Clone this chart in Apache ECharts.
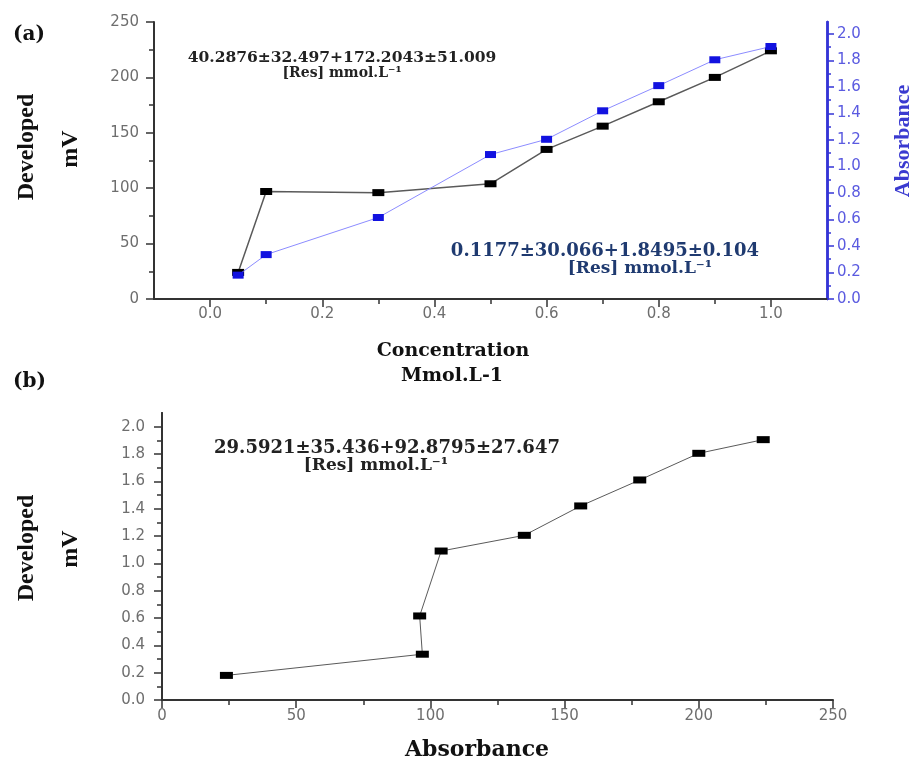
<!DOCTYPE html>
<html>
<head>
<meta charset="utf-8">
<script src="https://cdn.jsdelivr.net/npm/echarts@6/dist/echarts.min.js"></script>
<style>html,body{margin:0;padding:0;background:#fff}#c{width:917px;height:764px}</style>
</head>
<body>
<div id="c"></div>
<script>
// ---- data ----
var concentration = [0.05, 0.1, 0.3, 0.5, 0.6, 0.7, 0.8, 0.9, 1.0];
var developedMV = [24, 97, 96, 104, 135, 156, 178, 200, 224];
var absorbance = [0.18, 0.335, 0.615, 1.09, 1.205, 1.42, 1.61, 1.805, 1.905];
var concMajorTicks = [0, 0.2, 0.4, 0.6, 0.8, 1.0];
var concMinorTicks = [0.1, 0.3, 0.5, 0.7, 0.9];
var absMajorTicks = [0, 0.2, 0.4, 0.6, 0.8, 1.0, 1.2, 1.4, 1.6, 1.8, 2.0];
var absMinorTicks = [0.1, 0.3, 0.5, 0.7, 0.9, 1.1, 1.3, 1.5, 1.7, 1.9];

var chart = echarts.init(document.getElementById('c'), null, {renderer: 'canvas'});

var tickFont = {fontFamily: 'DejaVu Sans', fontSize: 15, color: '#6e6e6e'};
var dark = '#333';
var blue = '#3434d6';
function fmt1(v) { return v.toFixed(1); }

function pairs(xs, ys) { return xs.map(function (x, i) { return [x, ys[i]]; }); }

var topGrid = {left: 154, right: 90, top: 22, bottom: 465};

var option = {
  animation: false,
  backgroundColor: '#fff',
  grid: [
    topGrid,
    {left: 162, right: 84, top: 413, bottom: 64},
    Object.assign({}, topGrid)
  ],
  xAxis: [
    { // top main
      type: 'value', gridIndex: 0, min: -0.1, max: 1.1, position: 'bottom',
      axisLine: {show: true, onZero: false, lineStyle: {color: dark, width: 2}},
      axisTick: {show: true, customValues: concMajorTicks, length: 8, lineStyle: {color: dark, width: 1.5}},
      axisLabel: Object.assign({customValues: concMajorTicks, formatter: fmt1, margin: 8}, tickFont),
      splitLine: {show: false}
    },
    { // bottom
      type: 'value', gridIndex: 1, min: 0, max: 250, interval: 50, position: 'bottom',
      axisLine: {show: true, onZero: false, lineStyle: {color: dark, width: 2}},
      axisTick: {show: true, length: 8, lineStyle: {color: dark, width: 1.5}},
      minorTick: {show: true, splitNumber: 2, length: 5, lineStyle: {color: dark, width: 1.5}},
      axisLabel: Object.assign({margin: 9}, tickFont),
      splitLine: {show: false}
    },
    { // top minor ticks (overlay grid)
      type: 'value', gridIndex: 2, min: -0.1, max: 1.1, position: 'bottom',
      axisLine: {show: true, onZero: false, lineStyle: {color: dark, width: 2}},
      axisTick: {show: true, customValues: concMinorTicks, length: 5, lineStyle: {color: dark, width: 1.5}},
      axisLabel: {show: false},
      splitLine: {show: false}
    }
  ],
  yAxis: [
    { // top left mV
      type: 'value', gridIndex: 0, min: 0, max: 250, interval: 50, position: 'left',
      axisLine: {show: true, onZero: false, lineStyle: {color: dark, width: 2}},
      axisTick: {show: true, length: 8, lineStyle: {color: dark, width: 1.5}},
      minorTick: {show: true, splitNumber: 2, length: 5, lineStyle: {color: dark, width: 1.5}},
      axisLabel: Object.assign({margin: 15}, tickFont),
      splitLine: {show: false}
    },
    { // top right absorbance main
      type: 'value', gridIndex: 0, min: 0, max: 2.09, position: 'right',
      axisLine: {show: true, onZero: false, lineStyle: {color: blue, width: 2.5}},
      axisTick: {show: true, customValues: absMajorTicks, length: 7, lineStyle: {color: blue, width: 1.5}},
      axisLabel: Object.assign({}, tickFont, {customValues: absMajorTicks, formatter: fmt1, margin: 10, color: '#5a5ae0'}),
      splitLine: {show: false}
    },
    { // top right minor
      type: 'value', gridIndex: 0, min: 0, max: 2.09, position: 'right',
      axisLine: {show: true, onZero: false, lineStyle: {color: blue, width: 2.5}},
      axisTick: {show: true, customValues: absMinorTicks, length: 4, lineStyle: {color: blue, width: 1.5}},
      axisLabel: {show: false},
      splitLine: {show: false}
    },
    { // bottom left main
      type: 'value', gridIndex: 1, min: 0, max: 2.1, position: 'left',
      axisLine: {show: true, onZero: false, lineStyle: {color: dark, width: 2}},
      axisTick: {show: true, customValues: absMajorTicks, length: 8, lineStyle: {color: dark, width: 1.5}},
      axisLabel: Object.assign({customValues: absMajorTicks, formatter: fmt1, margin: 17}, tickFont),
      splitLine: {show: false}
    },
    { // bottom left minor
      type: 'value', gridIndex: 1, min: 0, max: 2.1, position: 'left',
      axisLine: {show: true, onZero: false, lineStyle: {color: dark, width: 2}},
      axisTick: {show: true, customValues: absMinorTicks, length: 5, lineStyle: {color: dark, width: 1.5}},
      axisLabel: {show: false},
      splitLine: {show: false}
    },
    { // helper y for overlay grid (hidden)
      type: 'value', gridIndex: 2, min: 0, max: 250, position: 'left', show: false
    }
  ],
  series: [
    {
      type: 'line', xAxisIndex: 0, yAxisIndex: 0,
      data: pairs(concentration, developedMV),
      symbol: 'rect', symbolSize: [12, 7], showSymbol: true,
      lineStyle: {color: '#5a5a5a', width: 1.5},
      itemStyle: {color: '#000'},
      z: 2
    },
    {
      type: 'line', xAxisIndex: 0, yAxisIndex: 1,
      data: pairs(concentration, absorbance),
      symbol: 'rect', symbolSize: [11, 7], showSymbol: true,
      lineStyle: {color: '#8c8cff', width: 1},
      itemStyle: {color: '#1212e0'},
      z: 3
    },
    {
      type: 'line', xAxisIndex: 1, yAxisIndex: 3,
      data: pairs(developedMV, absorbance),
      symbol: 'rect', symbolSize: [13, 7], showSymbol: true,
      lineStyle: {color: '#5a5a5a', width: 1},
      itemStyle: {color: '#000'},
      z: 2
    }
  ],
  graphic: [
    {type: 'text', x: 13, y: 35, style: {text: '(a)', font: 'bold 20px "DejaVu Serif"', fill: '#111', textAlign: 'left', textVerticalAlign: 'middle'}},
    {type: 'text', x: 13, y: 382, style: {text: '(b)', font: 'bold 20px "DejaVu Serif"', fill: '#111', textAlign: 'left', textVerticalAlign: 'middle'}},
    {type: 'text', x: 27, y: 147, rotation: Math.PI / 2, style: {text: 'Developed', font: 'bold 24px "Liberation Serif"', fill: '#111', textAlign: 'center', textVerticalAlign: 'middle'}},
    {type: 'text', x: 71, y: 149, rotation: Math.PI / 2, style: {text: 'mV', font: 'bold 24px "Liberation Serif"', fill: '#111', textAlign: 'center', textVerticalAlign: 'middle'}},
    {type: 'text', x: 27, y: 548, rotation: Math.PI / 2, style: {text: 'Developed', font: 'bold 24px "Liberation Serif"', fill: '#111', textAlign: 'center', textVerticalAlign: 'middle'}},
    {type: 'text', x: 71, y: 549, rotation: Math.PI / 2, style: {text: 'mV', font: 'bold 24px "Liberation Serif"', fill: '#111', textAlign: 'center', textVerticalAlign: 'middle'}},
    {type: 'text', x: 903, y: 141, rotation: Math.PI / 2, style: {text: 'Absorbance', font: 'bold 22px "Liberation Serif"', fill: '#3a3ad0', textAlign: 'center', textVerticalAlign: 'middle'}},
    {type: 'text', x: 453, y: 351, style: {text: 'Concentration', font: 'bold 19px "DejaVu Serif"', fill: '#111', textAlign: 'center', textVerticalAlign: 'middle'}},
    {type: 'text', x: 452, y: 376, style: {text: 'Mmol.L-1', font: 'bold 19px "DejaVu Serif"', fill: '#111', textAlign: 'center', textVerticalAlign: 'middle'}},
    {type: 'text', x: 477, y: 750, style: {text: 'Absorbance', font: 'bold 22px "DejaVu Serif"', fill: '#111', textAlign: 'center', textVerticalAlign: 'middle'}},
    {type: 'text', x: 342, y: 58, style: {text: '40.2876±32.497+172.2043±51.009', font: 'bold 15.5px "DejaVu Serif"', fill: '#222', textAlign: 'center', textVerticalAlign: 'middle'}},
    {type: 'text', x: 342, y: 73, style: {text: '[Res] mmol.L⁻¹', font: 'bold 14px "DejaVu Serif"', fill: '#222', textAlign: 'center', textVerticalAlign: 'middle'}},
    {type: 'text', x: 605, y: 251, style: {text: '0.1177±30.066+1.8495±0.104', font: 'bold 18px "DejaVu Serif"', fill: '#1f3a70', textAlign: 'center', textVerticalAlign: 'middle'}},
    {type: 'text', x: 640, y: 269, style: {text: '[Res] mmol.L⁻¹', font: 'bold 17px "DejaVu Serif"', fill: '#1f3a70', textAlign: 'center', textVerticalAlign: 'middle'}},
    {type: 'text', x: 387, y: 448, style: {text: '29.5921±35.436+92.8795±27.647', font: 'bold 18px "DejaVu Serif"', fill: '#222', textAlign: 'center', textVerticalAlign: 'middle'}},
    {type: 'text', x: 376, y: 466, style: {text: '[Res] mmol.L⁻¹', font: 'bold 17px "DejaVu Serif"', fill: '#222', textAlign: 'center', textVerticalAlign: 'middle'}}
  ]
};
chart.setOption(option);
</script>
</body>
</html>
